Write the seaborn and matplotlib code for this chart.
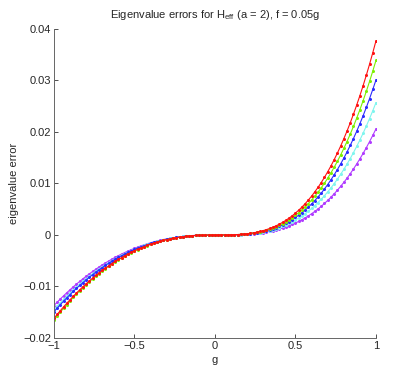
import numpy as np
import pandas as pd
import seaborn as sns
import matplotlib
matplotlib.use("Agg")
import matplotlib.pyplot as plt
from matplotlib.ticker import FuncFormatter

# g grid, step 0.02 from -1 to 1
g = np.round(np.linspace(-1, 1, 101), 2)

# eigenvalue errors in units of 1e-4
# negative half: g = -1.00 ... -0.02, then g = 0, then positive half g = 0.02 ... 1.00
red_neg = [162.0, 154.3, 146.9, 139.6, 132.6, 125.8, 119.2, 112.8, 106.6, 100.6,
           94.8, 89.2, 83.8, 78.6, 73.6, 68.8, 64.2, 59.8, 55.5, 51.4,
           47.5, 43.8, 40.3, 36.9, 33.7, 30.7, 27.8, 25.1, 22.6, 20.2,
           18.0, 15.9, 13.9, 12.2, 10.5, 9.0, 7.6, 6.4, 5.3, 4.3,
           3.4, 2.6, 2.0, 1.4, 1.0, 0.6, 0.4, 0.2, 0.1, 0.0]
red_pos = [0.0, 0.0, 0.1, 0.1, 0.3, 0.5, 0.8, 1.2, 1.7, 2.4,
           3.2, 4.2, 5.4, 6.8, 8.5, 10.4, 12.6, 15.1, 17.9, 21.0,
           24.5, 28.4, 32.7, 37.3, 42.5, 48.1, 54.1, 60.7, 67.8, 75.4,
           83.7, 92.4, 101.8, 111.9, 122.6, 133.9, 146.0, 158.8, 172.3, 186.7,
           201.7, 217.6, 234.5, 252.1, 270.5, 289.9, 310.2, 331.5, 353.8, 377.0]

green_neg = [165.0, 157.2, 149.6, 142.2, 135.1, 128.1, 121.4, 114.9, 108.6, 102.5,
             96.6, 90.9, 85.4, 80.1, 75.0, 70.1, 65.4, 60.9, 56.5, 52.4,
             48.4, 44.6, 41.0, 37.6, 34.4, 31.3, 28.3, 25.6, 23.0, 20.6,
             18.3, 16.2, 14.2, 12.4, 10.7, 9.2, 7.8, 6.5, 5.4, 4.4,
             3.5, 2.7, 2.0, 1.5, 1.0, 0.7, 0.4, 0.2, 0.1, 0.0]
green_pos = [0.0, 0.0, 0.0, 0.1, 0.2, 0.4, 0.7, 1.1, 1.5, 2.1,
             2.9, 3.8, 4.9, 6.1, 7.6, 9.4, 11.3, 13.6, 16.1, 18.9,
             22.0, 25.5, 29.4, 33.6, 38.2, 43.2, 48.7, 54.6, 61.0, 67.8,
             75.2, 83.1, 91.6, 100.6, 110.2, 120.4, 131.3, 142.8, 155.0, 167.9,
             181.4, 195.7, 210.8, 226.7, 243.2, 260.7, 278.9, 298.1, 318.1, 339.0]

blue_neg = [149.0, 142.0, 135.1, 128.4, 122.0, 115.7, 109.6, 103.7, 98.1, 92.5,
            87.2, 82.1, 77.1, 72.3, 67.7, 63.3, 59.0, 55.0, 51.0, 47.3,
            43.7, 40.3, 37.1, 34.0, 31.0, 28.2, 25.6, 23.1, 20.8, 18.6,
            16.5, 14.6, 12.8, 11.2, 9.7, 8.3, 7.0, 5.9, 4.8, 3.9,
            3.1, 2.4, 1.8, 1.3, 0.9, 0.6, 0.3, 0.2, 0.1, 0.0]
blue_pos = [0.0, 0.0, 0.0, 0.1, 0.2, 0.4, 0.6, 0.9, 1.4, 1.9,
            2.6, 3.4, 4.3, 5.5, 6.8, 8.3, 10.1, 12.1, 14.3, 16.8,
            19.6, 22.7, 26.1, 29.8, 33.9, 38.4, 43.2, 48.5, 54.1, 60.2,
            66.8, 73.8, 81.3, 89.3, 97.9, 106.9, 116.6, 126.8, 137.6, 149.1,
            161.1, 173.8, 187.2, 201.2, 216.0, 231.5, 247.7, 264.7, 282.5, 301.0]

cyan_neg = [145.0, 138.1, 131.5, 125.0, 118.7, 112.6, 106.7, 101.0, 95.4, 90.1,
            84.9, 79.9, 75.0, 70.4, 65.9, 61.6, 57.5, 53.5, 49.7, 46.0,
            42.6, 39.2, 36.1, 33.0, 30.2, 27.5, 24.9, 22.5, 20.2, 18.1,
            16.1, 14.2, 12.5, 10.9, 9.4, 8.1, 6.8, 5.7, 4.7, 3.8,
            3.0, 2.4, 1.8, 1.3, 0.9, 0.6, 0.3, 0.2, 0.1, 0.0]
cyan_pos = [0.0, 0.0, 0.0, 0.1, 0.2, 0.3, 0.5, 0.8, 1.2, 1.6,
            2.2, 2.9, 3.7, 4.7, 5.8, 7.1, 8.6, 10.3, 12.2, 14.3,
            16.7, 19.3, 22.3, 25.5, 29.0, 32.8, 36.9, 41.4, 46.2, 51.4,
            57.0, 63.0, 69.4, 76.3, 83.6, 91.3, 99.5, 108.3, 117.5, 127.3,
            137.5, 148.4, 159.8, 171.8, 184.4, 197.6, 211.5, 226.0, 241.2, 257.0]

purple_neg = [137.0, 130.5, 124.2, 118.1, 112.1, 106.4, 100.8, 95.4, 90.2, 85.1,
              80.2, 75.5, 70.9, 66.5, 62.3, 58.2, 54.3, 50.5, 46.9, 43.5,
              40.2, 37.1, 34.1, 31.2, 28.5, 26.0, 23.5, 21.2, 19.1, 17.1,
              15.2, 13.4, 11.8, 10.3, 8.9, 7.6, 6.5, 5.4, 4.5, 3.6,
              2.9, 2.2, 1.7, 1.2, 0.8, 0.5, 0.3, 0.2, 0.1, 0.0]
purple_pos = [0.0, 0.0, 0.0, 0.1, 0.1, 0.3, 0.4, 0.6, 0.9, 1.3,
              1.7, 2.3, 3.0, 3.7, 4.6, 5.7, 6.9, 8.2, 9.8, 11.5,
              13.4, 15.5, 17.8, 20.4, 23.2, 26.3, 29.6, 33.2, 37.0, 41.2,
              45.7, 50.5, 55.6, 61.1, 67.0, 73.2, 79.8, 86.8, 94.2, 102.0,
              110.2, 118.9, 128.1, 137.7, 147.8, 158.4, 169.5, 181.2, 193.3, 206.0]

series = {
    "purple": (purple_neg, purple_pos, "#b03cff"),
    "cyan": (cyan_neg, cyan_pos, "#7ff5ee"),
    "blue": (blue_neg, blue_pos, "#2a2aff"),
    "green": (green_neg, green_pos, "#7cf000"),
    "red": (red_neg, red_pos, "#ff1010"),
}

rows = []
for name, (neg, pos, col) in series.items():
    vals = [-v for v in neg] + [0.0] + list(pos)
    for gi, v in zip(g, vals):
        rows.append({"g": gi, "err": v * 1e-4, "series": name})
df = pd.DataFrame(rows)

sns.set_style("ticks")
plt.rcParams["font.family"] = ["Liberation Sans", "DejaVu Sans"]
plt.rcParams["mathtext.fontset"] = "custom"
plt.rcParams["mathtext.rm"] = "Liberation Sans"
plt.rcParams["mathtext.it"] = "Liberation Sans"

fig = plt.figure(figsize=(4.15, 3.81), dpi=100)
ax = fig.add_axes([0.130, 0.113, 0.776, 0.811])

for name, (neg, pos, col) in series.items():
    sub = df[df["series"] == name]
    sns.lineplot(data=sub, x="g", y="err", color=col, marker="o", markersize=2.2,
                 markeredgewidth=0, linewidth=0.8, ax=ax, legend=False)

ax.set_xlim(-1, 1)
ax.set_ylim(-0.02, 0.04)
ax.set_xticks([-1, -0.5, 0, 0.5, 1])
ax.set_yticks([-0.02, -0.01, 0, 0.01, 0.02, 0.03, 0.04])
fmt = FuncFormatter(lambda v, p: ("%g" % round(v, 4)).replace("-", "\u2212"))
ax.xaxis.set_major_formatter(fmt)
ax.yaxis.set_major_formatter(fmt)
ax.tick_params(direction="in", length=3, width=0.6, labelsize=8, color="#333333", pad=2)

sns.despine(ax=ax)
for s in ["left", "bottom"]:
    ax.spines[s].set_linewidth(0.7)
    ax.spines[s].set_color("#666666")

ax.set_xlabel("g", fontsize=8, labelpad=3)
ax.set_ylabel("eigenvalue error", fontsize=8, labelpad=3)
ax.set_title(r"Eigenvalue errors for H$_{\rm eff}$ (a = 2), f = 0.05g", fontsize=8, pad=8)

fig.savefig("out.png", dpi=100)
